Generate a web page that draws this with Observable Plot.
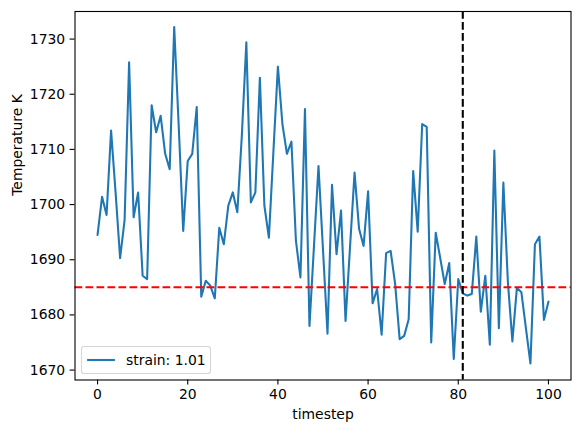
<!DOCTYPE html>
<html>
<head>
<meta charset="utf-8">
<script src="https://cdn.jsdelivr.net/npm/d3@7"></script>
<script src="https://cdn.jsdelivr.net/npm/@observablehq/plot@0.6"></script>
<style>
  html, body { margin: 0; padding: 0; background: white; }
  #chart { width: 581px; height: 433px; }
</style>
</head>
<body>
<div id="chart"></div>
<script>
// ---- data ----
const temperature = [
  1694.5, 1701.4, 1698.1, 1713.4, 1702.2, 1690.3, 1697.2, 1725.8, 1697.7, 1702.2,
  1687.1, 1686.5, 1718.0, 1713.1, 1716.1, 1709.2, 1706.4, 1732.2, 1714.3, 1695.2,
  1707.9, 1709.2, 1717.7, 1683.3, 1686.2, 1685.3, 1683.0, 1695.8, 1692.8, 1699.8,
  1702.2, 1698.6, 1712.5, 1729.4, 1700.4, 1702.2, 1723.0, 1699.8, 1694.0, 1709.6,
  1725.0, 1714.6, 1709.2, 1711.4, 1693.4, 1686.8, 1717.3, 1678.0, 1692.5, 1707.0,
  1691.8, 1676.6, 1703.6, 1691.0, 1698.9, 1678.9, 1692.4, 1705.8, 1695.6, 1692.5,
  1702.4, 1682.1, 1684.7, 1676.4, 1691.2, 1691.6, 1685.6, 1675.6, 1676.2, 1679.2,
  1706.1, 1695.1, 1714.6, 1714.1, 1675.0, 1694.9, 1690.3, 1685.6, 1689.4, 1672.0,
  1686.5, 1683.9, 1683.5, 1683.8, 1694.2, 1680.6, 1687.1, 1674.6, 1709.8, 1677.6,
  1704.0, 1686.0, 1675.2, 1684.9, 1684.1, 1677.6, 1671.2, 1692.8, 1694.2, 1679.1,
  1682.4
];
const timesteps = temperature.map((_, i) => i);
const thresholdTemp = [1685];
const cutTimestep = [81];
const xTicks = [0, 20, 40, 60, 80, 100];
const yTicks = [1670, 1680, 1690, 1700, 1710, 1720, 1730];
const legendLabel = "strain: 1.01";
const xLabel = "timestep";
const yLabel = "Temperature K";

const rows = timesteps.map((t, i) => ({t, T: temperature[i]}));

const FONT = "DejaVu Sans, sans-serif";
const FS = 13.9;

const plot = Plot.plot({
  width: 581,
  height: 433,
  marginLeft: 74.5,
  marginRight: 10.5,
  marginTop: 11,
  marginBottom: 53.5,
  style: {fontFamily: FONT, fontSize: FS + "px", background: "white", color: "black", overflow: "visible"},
  x: {domain: [-5, 105]},
  y: {domain: [1668.2, 1735.0]},
  marks: [
    Plot.axisX({ticks: xTicks, tickFormat: d => String(d), tickSize: 4.9, tickPadding: 4.6, strokeWidth: 1.1, label: null, fontSize: FS}),
    Plot.axisY({ticks: yTicks, tickFormat: d => String(d), tickSize: 4.9, tickPadding: 4.9, strokeWidth: 1.1, label: null, fontSize: FS}),
    Plot.line(rows, {x: "t", y: "T", stroke: "#1f77b4", strokeWidth: 2.08}),
    Plot.ruleY(thresholdTemp, {stroke: "#ff0000", strokeWidth: 2.08, strokeDasharray: "7.7,3.3"}),
    Plot.ruleX(cutTimestep, {stroke: "#000000", strokeWidth: 2.08, strokeDasharray: "7.7,3.3"}),
    Plot.frame({stroke: "black", strokeWidth: 1.1}),
    Plot.text([xLabel], {frameAnchor: "bottom", dy: 38.5, lineAnchor: "bottom", fontSize: FS, fill: "black"}),
    Plot.text([yLabel], {frameAnchor: "left", dx: -57, rotate: -90, lineAnchor: "middle", fontSize: FS, fill: "black"})
  ]
});

document.getElementById("chart").appendChild(plot);

// legend (lower left, matplotlib style)
const svg = d3.select(plot);
const lg = svg.append("g").attr("class", "legend");
const bx = 81.5, by = 346.5, bw = 129, bh = 27;
lg.append("rect")
  .attr("x", bx).attr("y", by).attr("width", bw).attr("height", bh)
  .attr("rx", 2.8).attr("ry", 2.8)
  .attr("fill", "white").attr("fill-opacity", 0.8)
  .attr("stroke", "#d6d6d6").attr("stroke-width", 1.1);
lg.append("line")
  .attr("x1", bx + 5.6).attr("x2", bx + 33.4)
  .attr("y1", by + bh / 2).attr("y2", by + bh / 2)
  .attr("stroke", "#1f77b4").attr("stroke-width", 2.08);
lg.append("text")
  .attr("x", bx + 44.5).attr("y", by + bh / 2)
  .attr("dy", "0.36em")
  .attr("text-anchor", "start")
  .attr("font-family", FONT).attr("font-size", FS)
  .attr("fill", "black")
  .text(legendLabel);
</script>
</body>
</html>
